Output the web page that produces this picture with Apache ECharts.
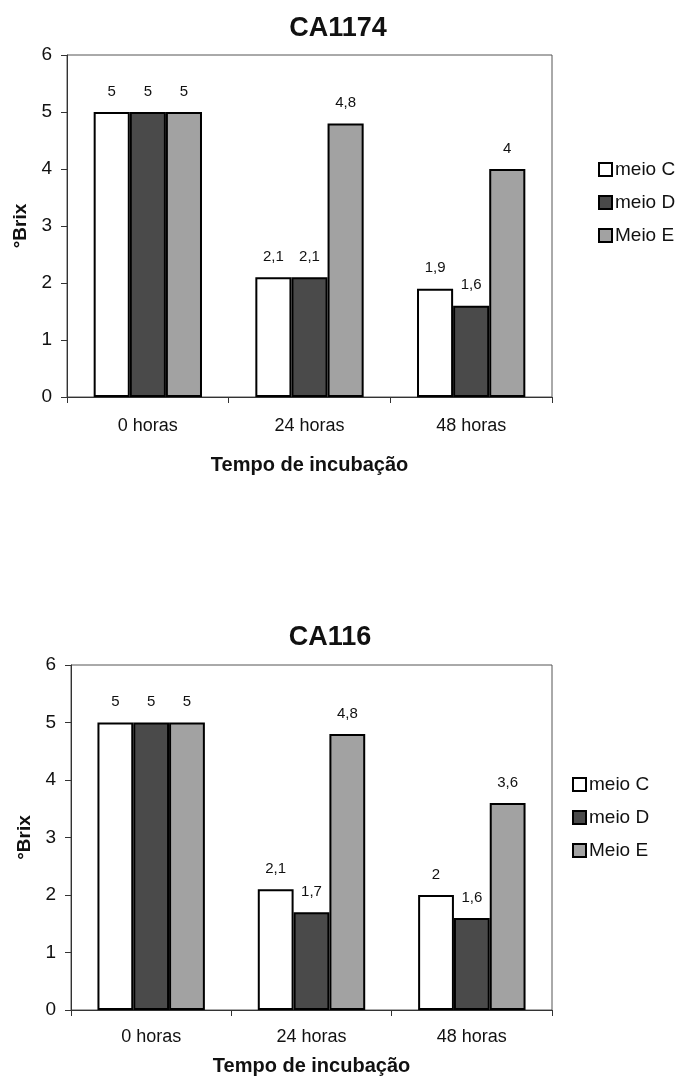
<!DOCTYPE html>
<html><head><meta charset="utf-8">
<script src="https://cdn.jsdelivr.net/npm/echarts@6/dist/echarts.min.js"></script>
<style>html,body{margin:0;padding:0;background:#fff}#c{width:684px;height:1079px}</style>
</head><body><div id="c"></div>
<script>
var categories = ['0 horas', '24 horas', '48 horas'];
var seriesNames = ['meio C', 'meio D', 'Meio E'];
var titles = ['CA1174', 'CA116'];
var ca1174_C = [5, 2.1, 1.9];
var ca1174_D = [5, 2.1, 1.6];
var ca1174_E = [5, 4.8, 4];
var ca116_C = [5, 2.1, 2];
var ca116_D = [5, 1.7, 1.6];
var ca116_E = [5, 4.8, 3.6];
var yTicks = [0, 1, 2, 3, 4, 5, 6];

var FONT = '"Liberation Sans", Arial, sans-serif';
var colors = ['#ffffff', '#4a4a4a', '#a2a2a2'];
var chart = echarts.init(document.getElementById('c'));

var layouts = [
  {left: 67, top: 55, height: 342, titleX: 333, titleY: 10, legX: 598, legY: 160, labelMargin: 20, nameGap: 58},
  {left: 71, top: 665, height: 345, titleX: 325, titleY: 619, legX: 572, legY: 775, labelMargin: 18, nameGap: 46}
];
var data = [[ca1174_C, ca1174_D, ca1174_E], [ca116_C, ca116_D, ca116_E]];

var option = {
  backgroundColor: '#fff',
  animation: false,
  title: [], legend: [], grid: [], xAxis: [], yAxis: [], series: []
};

layouts.forEach(function (L, g) {
  option.title.push({
    text: titles[g], left: L.titleX, top: L.titleY, textAlign: 'center',
    textStyle: {fontFamily: FONT, fontSize: 27, fontWeight: 'bold', color: '#111'}
  });
  option.legend.push({
    data: seriesNames, orient: 'vertical', left: L.legX, top: L.legY, padding: 0,
    icon: 'rect', itemWidth: 13, itemHeight: 13, itemGap: 14,
    selectedMode: false,
    textStyle: {fontFamily: FONT, fontSize: 19, color: '#111', padding: [0, 0, 0, -2]}
  });
  option.grid.push({
    left: L.left, right: 132, top: L.top, height: L.height,
    show: true, borderColor: '#555', borderWidth: 1, backgroundColor: 'transparent'
  });
  option.xAxis.push({
    type: 'category', gridIndex: g, data: categories,
    name: 'Tempo de incubação', nameLocation: 'middle', nameGap: L.nameGap,
    nameTextStyle: {fontFamily: FONT, fontSize: 20, fontWeight: 'bold', color: '#111'},
    axisLine: {lineStyle: {color: '#333', width: 1}},
    axisTick: {show: true, length: 6, lineStyle: {color: '#333'}},
    axisLabel: {fontFamily: FONT, fontSize: 18, color: '#111', margin: L.labelMargin},
    splitLine: {show: false}
  });
  option.yAxis.push({
    type: 'value', gridIndex: g, min: yTicks[0], max: yTicks[yTicks.length - 1], interval: 1,
    name: '°Brix', nameLocation: 'middle', nameGap: 34, nameRotate: 90,
    nameTextStyle: {fontFamily: FONT, fontSize: 19, fontWeight: 'bold', color: '#111'},
    axisLine: {show: true, lineStyle: {color: '#333', width: 1}},
    axisTick: {show: true, length: 6, lineStyle: {color: '#333'}},
    axisLabel: {fontFamily: FONT, fontSize: 19, color: '#111', margin: 15},
    splitLine: {show: false}
  });
  seriesNames.forEach(function (nm, i) {
    option.series.push({
      type: 'bar', name: nm, xAxisIndex: g, yAxisIndex: g, data: data[g][i],
      barGap: '0%', barCategoryGap: '33%',
      itemStyle: {color: colors[i], borderColor: '#000', borderWidth: 2},
      label: {
        show: true, position: 'top', distance: 13,
        fontFamily: FONT, fontSize: 15, color: '#111',
        formatter: function (p) { return String(p.value).replace('.', ','); }
      }
    });
  });
});

chart.setOption(option);
</script>
</body></html>
